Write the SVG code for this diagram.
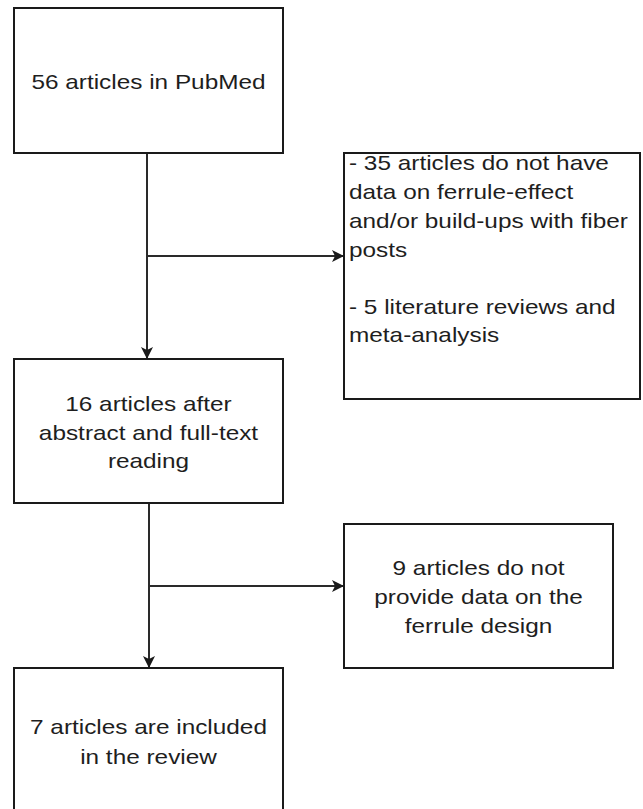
<svg xmlns="http://www.w3.org/2000/svg" width="643" height="809" viewBox="0 0 643 809">
<style>
.box{fill:#ffffff;stroke:#1a1a1a;stroke-width:2}
.t{font-family:"Liberation Sans",Arial,sans-serif;font-size:21px;fill:#1e1e1e}
.c{text-anchor:middle}
.edge{fill:none;stroke:#2a2a2a;stroke-width:2}
</style>
<defs>
<marker id="arr" viewBox="0 0 12 12" refX="11" refY="6" markerWidth="12" markerHeight="12" markerUnits="userSpaceOnUse" orient="auto">
<path d="M0,0 L12,6 L0,12 L3,6 Z" fill="#1a1a1a"/>
</marker>
</defs>
<rect width="643" height="809" fill="#ffffff"/>
<g id="connectors">
<path class="edge" d="M147,153 L147,358" marker-end="url(#arr)"/>
<path class="edge" d="M147,256 L343,256" marker-end="url(#arr)"/>
<path class="edge" d="M149,503 L149,667" marker-end="url(#arr)"/>
<path class="edge" d="M149,586 L343,586" marker-end="url(#arr)"/>
</g>
<g id="n1">
<rect class="box" x="14" y="8" width="269" height="145"/>
<text class="t c" transform="translate(148.5 0) scale(1.16 1)" x="0" y="89">56 articles in PubMed</text>
</g>
<g id="n2">
<rect class="box" x="14" y="359" width="269" height="144"/>
<text class="t c" transform="translate(148.5 0) scale(1.16 1)" x="0" y="411">16 articles after</text>
<text class="t c" transform="translate(148.5 0) scale(1.16 1)" x="0" y="440">abstract and full-text</text>
<text class="t c" transform="translate(148.5 0) scale(1.16 1)" x="0" y="468">reading</text>
</g>
<g id="n3">
<rect class="box" x="344" y="153" width="296" height="246"/>
<g transform="translate(349 0) scale(1.16 1)">
<text class="t" x="0" y="170">- 35 articles do not have</text>
<text class="t" x="0" y="199">data on ferrule-effect</text>
<text class="t" x="0" y="228">and/or build-ups with fiber</text>
<text class="t" x="0" y="257">posts</text>
<text class="t" x="0" y="314">- 5 literature reviews and</text>
<text class="t" x="0" y="342">meta-analysis</text>
</g>
</g>
<g id="n4">
<rect class="box" x="344" y="524" width="269" height="144"/>
<text class="t c" transform="translate(478.5 0) scale(1.16 1)" x="0" y="575">9 articles do not</text>
<text class="t c" transform="translate(478.5 0) scale(1.16 1)" x="0" y="604">provide data on the</text>
<text class="t c" transform="translate(478.5 0) scale(1.16 1)" x="0" y="633">ferrule design</text>
</g>
<g id="n5">
<rect class="box" x="14" y="668" width="269" height="150"/>
<text class="t c" transform="translate(148.5 0) scale(1.16 1)" x="0" y="734">7 articles are included</text>
<text class="t c" transform="translate(148.5 0) scale(1.16 1)" x="0" y="764">in the review</text>
</g>
</svg>
